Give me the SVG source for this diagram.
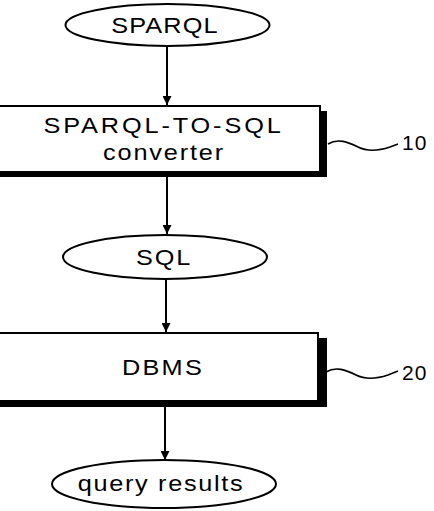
<svg xmlns="http://www.w3.org/2000/svg" width="434" height="511" viewBox="0 0 434 511">
<style>
.shape{fill:#fff;stroke:#000;stroke-width:2}
.shadow{fill:#000}
.t{font-family:"Liberation Sans",Arial,sans-serif;font-size:22px;letter-spacing:1.6px;text-anchor:middle;fill:#000}
.n{font-family:"Liberation Sans",Arial,sans-serif;font-size:21px;letter-spacing:1px;fill:#000}
.edge{stroke:#000;stroke-width:2;fill:none}
.lead{stroke:#000;stroke-width:1.6;fill:none}
</style>
<defs>
<marker id="ah" viewBox="0 0 10 10" refX="10" refY="5" markerWidth="9" markerHeight="9" markerUnits="userSpaceOnUse" orient="auto">
<path d="M0,0 L10,5 L0,10 z" fill="#000"/>
</marker>
</defs>
<g id="connectors">
<line class="edge" x1="167" y1="46" x2="167" y2="105" marker-end="url(#ah)"/>
<line class="edge" x1="167" y1="177" x2="167" y2="234" marker-end="url(#ah)"/>
<line class="edge" x1="166" y1="279" x2="166" y2="332" marker-end="url(#ah)"/>
<line class="edge" x1="165" y1="406" x2="165" y2="460" marker-end="url(#ah)"/>
</g>
<g id="sparql">
<ellipse class="shape" cx="167.5" cy="25" rx="102" ry="21"/>
<text class="t" transform="translate(165,33) scale(1.15,1)" x="0" y="0" style="letter-spacing:1px">SPARQL</text>
</g>
<g id="converter">
<rect class="shadow" x="0" y="111" width="327" height="66"/>
<rect class="shape" x="-5" y="106" width="325" height="66"/>
<text class="t" transform="translate(163,133) scale(1.15,1)" x="0" y="0" textLength="208" lengthAdjust="spacing">SPARQL-TO-SQL</text>
<text class="t" transform="translate(164,160) scale(1.15,1)" x="0" y="0">converter</text>
</g>
<g id="label10">
<path class="lead" d="M328,144 C338,138 348,142 358,147 C368,152 378,151 390,147 L398,144"/>
<text class="n" x="402" y="150">10</text>
</g>
<g id="sql">
<ellipse class="shape" cx="165" cy="257" rx="102" ry="22"/>
<text class="t" transform="translate(164,265) scale(1.15,1)" x="0" y="0">SQL</text>
</g>
<g id="dbms">
<rect class="shadow" x="0" y="338" width="327" height="69"/>
<rect class="shape" x="-5" y="333" width="323" height="68"/>
<text class="t" transform="translate(163,375) scale(1.15,1)" x="0" y="0" style="letter-spacing:2px">DBMS</text>
</g>
<g id="label20">
<path class="lead" d="M326,372 C336,366 346,370 356,375 C366,380 376,379 388,375 L398,371"/>
<text class="n" x="402" y="380">20</text>
</g>
<g id="results">
<ellipse class="shape" cx="164" cy="484" rx="112" ry="24"/>
<text class="t" transform="translate(161,491) scale(1.15,1)" x="0" y="0" style="letter-spacing:1.45px">query results</text>
</g>
</svg>
